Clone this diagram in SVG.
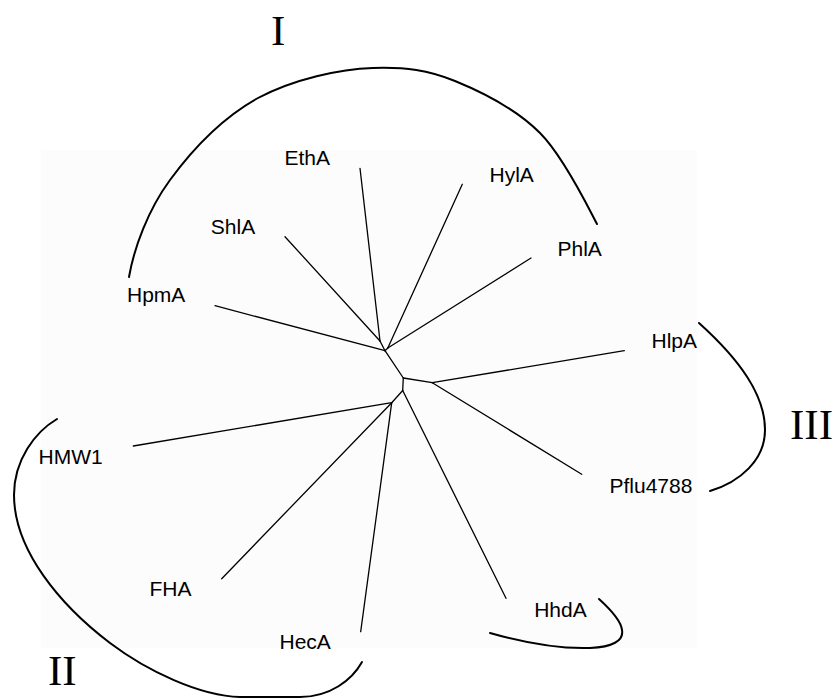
<svg xmlns="http://www.w3.org/2000/svg" width="834" height="699" viewBox="0 0 834 699">
<style>
.bg{fill:#fcfcfc}
.edge{stroke:#000;stroke-width:1.3;fill:none;stroke-linecap:round}
.clade{stroke:#000;stroke-width:2;fill:none;stroke-linecap:round}
.lbl{font-family:"Liberation Sans",Arial,sans-serif;font-size:21px;fill:#000}
.rom{font-family:"Liberation Serif","Times New Roman",serif;font-size:43px;fill:#000}
</style>
<rect width="834" height="699" fill="#fff"/>
<rect class="bg" x="41" y="150" width="656" height="498"/>
<g id="connectors">
<line class="edge" x1="215" y1="305.7" x2="385" y2="350.7"/>
<line class="edge" x1="380" y1="341" x2="385" y2="350.7"/>
<line class="edge" x1="285" y1="236.7" x2="380" y2="341"/>
<line class="edge" x1="360" y1="168.3" x2="380" y2="341"/>
<line class="edge" x1="387.8" y1="348" x2="385" y2="350.7"/>
<line class="edge" x1="462.3" y1="184.3" x2="387.8" y2="348"/>
<line class="edge" x1="531" y1="258" x2="387.8" y2="348"/>
<line class="edge" x1="385" y1="350.7" x2="403.3" y2="378"/>
<line class="edge" x1="403.3" y1="378" x2="432.3" y2="382.7"/>
<line class="edge" x1="432.3" y1="382.7" x2="624.3" y2="350.7"/>
<line class="edge" x1="432.3" y1="382.7" x2="581.7" y2="474.3"/>
<line class="edge" x1="403.3" y1="378" x2="402.7" y2="390.5"/>
<line class="edge" x1="402.7" y1="390.5" x2="506" y2="598.3"/>
<line class="edge" x1="402.7" y1="390.5" x2="391.7" y2="402.7"/>
<line class="edge" x1="391.7" y1="402.7" x2="133.3" y2="446"/>
<line class="edge" x1="391.7" y1="402.7" x2="221.7" y2="578.7"/>
<line class="edge" x1="391.7" y1="402.7" x2="360.7" y2="631.7"/>
</g>
<g id="node-HpmA"><text class="lbl" x="127" y="302.3">HpmA</text></g>
<g id="node-ShlA"><text class="lbl" x="210.8" y="234">ShlA</text></g>
<g id="node-EthA"><text class="lbl" x="284.5" y="165">EthA</text></g>
<g id="node-HylA"><text class="lbl" x="489.5" y="181.7">HylA</text></g>
<g id="node-PhlA"><text class="lbl" x="557.5" y="256">PhlA</text></g>
<g id="node-HlpA"><text class="lbl" x="651.5" y="347.7">HlpA</text></g>
<g id="node-Pflu4788"><text class="lbl" x="609.5" y="492.7">Pflu4788</text></g>
<g id="node-HhdA"><text class="lbl" x="534.2" y="616.7">HhdA</text></g>
<g id="node-HecA"><text class="lbl" x="279.5" y="649.3">HecA</text></g>
<g id="node-FHA"><text class="lbl" x="149.5" y="596">FHA</text></g>
<g id="node-HMW1"><text class="lbl" x="38.5" y="464">HMW1</text></g>
<g id="clade-I">
<path class="clade" d="M129,277 C134,248 148,210 170,180 C192,150 222,118 258,98 C294,79 340,69 373,68 C406,67 428,70 455,81 C482,92 516,109 540,133 C564,157 589,209 597,224"/>
<text class="rom" x="271" y="45">I</text>
</g>
<g id="clade-II">
<path class="clade" d="M57,419 C35,432 14,460 14,495 C14,550 60,605 110,643 C147,671 200,696 240,697 L300,697 C330,697 352,680 362,662"/>
<text class="rom" x="48" y="685">II</text>
</g>
<g id="clade-III">
<path class="clade" d="M699,323 C740,360 765,395 765,430 C765,460 740,482 710,491"/>
<text class="rom" x="790" y="439.3">III</text>
</g>
<g id="clade-HhdA">
<path class="clade" d="M490,633 C525,643 560,649 590,648 C612,647 624,641 622,630 C621,620 610,609 599,599"/>
</g>
</svg>
